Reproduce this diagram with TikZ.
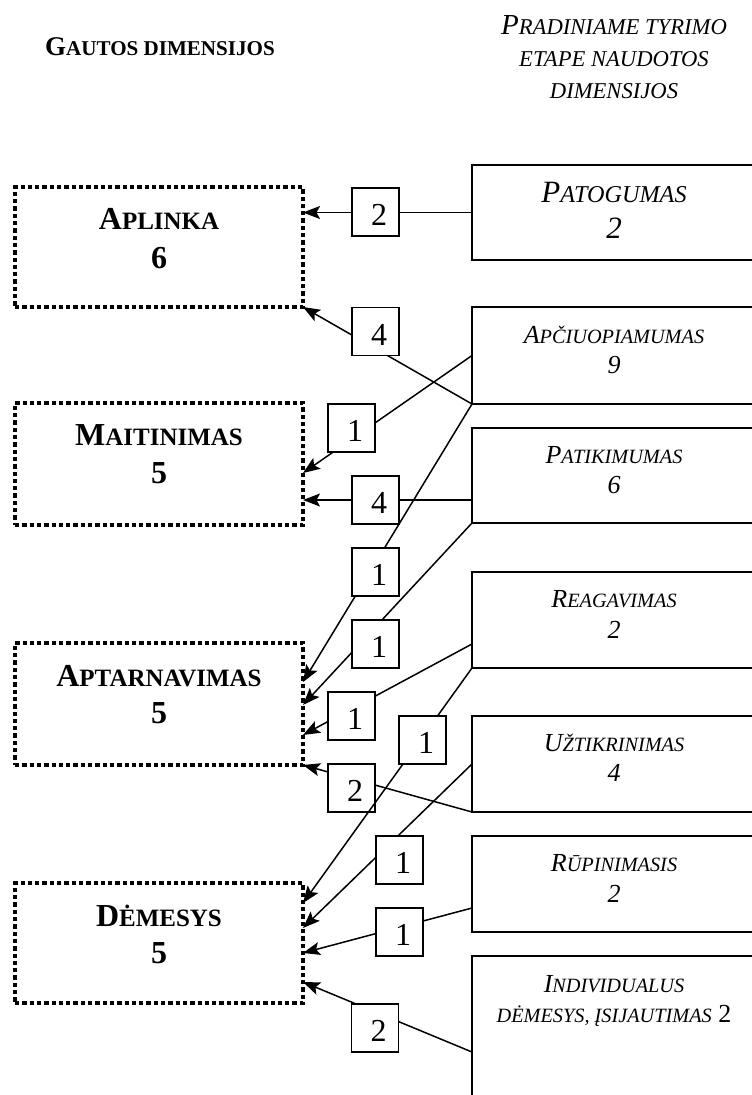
\documentclass[tikz,border=0pt]{standalone}
\usepackage{fontspec}
\setmainfont{Liberation Serif}
\usetikzlibrary{arrows.meta,calc}
\makeatletter
\newcommand\smc[1]{{\fontsize{\fpeval{0.78*\f@size}}{\f@baselineskip}\selectfont #1}}
\makeatother
\tikzset{
  dotbox/.style={draw, line width=4.3pt, dash pattern=on 4.3pt off 3.0pt,
    minimum width=288pt, outer sep=0pt, inner sep=0pt},
  rbox/.style={draw, line width=1.5pt, minimum width=300pt, anchor=north west,
    outer sep=0pt, inner sep=0pt},
  lbl/.style={draw, fill=white, line width=1.1pt, minimum width=47pt, minimum height=48pt,
    inner sep=0pt, text height=27pt, font=\fontsize{32}{38}\selectfont},
  conn/.style={line width=1.5pt, -{Stealth[length=17pt,width=13pt,inset=3.5pt]}},
  lt/.style={anchor=base, inner sep=0pt, font=\bfseries\fontsize{32}{38}\selectfont},
  rt/.style={anchor=base, inner sep=0pt, font=\itshape\fontsize{26}{31}\selectfont},
  rtbig/.style={anchor=base, inner sep=0pt, font=\itshape\fontsize{31}{36}\selectfont},
  ttl/.style={anchor=base, inner sep=0pt, font=\itshape\fontsize{29}{34}\selectfont},
}
\begin{document}
\begin{tikzpicture}[x=1pt,y=-1pt]
\useasboundingbox (0,0) rectangle (752,1095);
\clip (0,0) rectangle (752,1095);

% titles
\node[anchor=base, inner sep=0pt, font=\bfseries\fontsize{27}{32}\selectfont] (tleft) at (160,55) {G\smc{AUTOS DIMENSIJOS}};
\node[ttl] (tr1) at (614,34) {P\smc{RADINIAME TYRIMO}};
\node[ttl] (tr2) at (614,66) {\smc{ETAPE NAUDOTOS}};
\node[ttl] (tr3) at (614,98) {\smc{DIMENSIJOS}};

% left dotted boxes
\node[dotbox, minimum height=120pt] (aplinka) at (159,247) {};
\node[dotbox, minimum height=122pt] (maitinimas) at (159,464) {};
\node[dotbox, minimum height=122pt] (aptarn) at (159,704) {};
\node[dotbox, minimum height=120pt] (demesys) at (159,943) {};

\node[lt] (aplT1) at (159,229) {A\smc{PLINKA}};
\node[lt] (aplT2) at (159,268) {6};
\node[lt] (maiT1) at (159,445) {M\smc{AITINIMAS}};
\node[lt] (maiT2) at (159,483) {5};
\node[lt] (aptT1) at (159,686) {A\smc{PTARNAVIMAS}};
\node[lt] (aptT2) at (159,723) {5};
\node[lt] (demT1) at (159,926) {D\smc{ĖMESYS}};
\node[lt] (demT2) at (159,963) {5};

% right boxes
\node[rbox, minimum height=95pt] (pat) at (472,165) {};
\node[rbox, minimum height=97pt] (apc) at (472,307) {};
\node[rbox, minimum height=95pt] (patik) at (472,428) {};
\node[rbox, minimum height=96pt] (reag) at (472,572) {};
\node[rbox, minimum height=96pt] (uzt) at (472,716) {};
\node[rbox, minimum height=96pt] (rup) at (472,836) {};
\node[rbox, minimum height=192pt] (indiv) at (472,956) {};

\node[rtbig] (patT1) at (614,202) {P\smc{ATOGUMAS}};
\node[rtbig] (patT2) at (614,238) {2};
\node[rt] (apcT1) at (614,343) {A\smc{PČIUOPIAMUMAS}};
\node[rt] (apcT2) at (614,373) {9};
\node[rt] (ptkT1) at (614,463) {P\smc{ATIKIMUMAS}};
\node[rt] (ptkT2) at (614,493) {6};
\node[rt] (reaT1) at (614,607) {R\smc{EAGAVIMAS}};
\node[rt] (reaT2) at (614,638) {2};
\node[rt] (uztT1) at (614,751) {U\smc{ŽTIKRINIMAS}};
\node[rt] (uztT2) at (614,781) {4};
\node[rt] (rupT1) at (614,871) {R\smc{ŪPINIMASIS}};
\node[rt] (rupT2) at (614,902) {2};
\node[rt] (indT1) at (614,992) {I\smc{NDIVIDUALUS}};
\node[rt] (indT2) at (614,1022) {\smc{DĖMESYS, ĮSIJAUTIMAS} {\upshape 2}};

% source / target points
\coordinate (s4) at ($(patik.north west)!0.758!(patik.south west)$);
\coordinate (s7) at ($(reag.north west)!0.75!(reag.south west)$);
\coordinate (s11) at ($(rup.north west)!0.75!(rup.south west)$);
\coordinate (t3) at ($(maitinimas.north east)!0.574!(maitinimas.south east)$);
\coordinate (t5) at ($(aptarn.north east)!0.32!(aptarn.south east)$);
\coordinate (t6) at ($(aptarn.north east)!0.508!(aptarn.south east)$);
\coordinate (t7) at ($(aptarn.north east)!0.754!(aptarn.south east)$);
\coordinate (t9) at ($(demesys.north east)!0.167!(demesys.south east)$);
\coordinate (t10) at ($(demesys.north east)!0.375!(demesys.south east)$);
\coordinate (t11) at ($(demesys.north east)!0.583!(demesys.south east)$);
\coordinate (t12) at ($(demesys.north east)!0.825!(demesys.south east)$);

% connectors
\draw[conn] (pat.west) -- (aplinka.east |- pat.west);
\draw[conn] (apc.south west) -- (aplinka.south east);
\draw[conn] (apc.west) -- (t3);
\draw[conn] (s4) -- (maitinimas.east |- s4);
\draw[conn] (apc.south west) -- (t5);
\draw[conn] (patik.south west) -- (t6);
\draw[conn] (s7) -- (t7);
\draw[conn] (uzt.south west) -- (aptarn.south east);
\draw[conn] (uzt.west) -- (t10);
\draw[conn] (s11) -- (t11);
\draw[conn] (indiv.west) -- (t12);

% labels
\node[lbl] (L1) at (375.5,212) {\kern7pt 2};
\node[lbl] (L2) at (375.5,331.5) {\kern7pt 4};
\node[lbl] (L3) at (351.5,428) {\kern7pt 1};
\node[lbl] (L4) at (375.5,500) {\kern7pt 4};
\node[lbl] (L5) at (375.5,572) {\kern7pt 1};
\node[lbl] (L6) at (375.5,644) {\kern7pt 1};
\node[lbl] (L7) at (351.5,716) {\kern7pt 1};
\node[lbl] (L9) at (351.5,788) {\kern7pt 2};
\node[lbl] (L10) at (399.5,860) {\kern7pt 1};
\node[lbl] (L11) at (399.5,932) {\kern7pt 1};
\node[lbl] (L12) at (375,1028) {\kern7pt 2};

\draw[conn] (reag.south west) -- (t9);
\node[lbl] (L8) at (422.5,740) {\kern7pt 1};
\end{tikzpicture}
\end{document}
